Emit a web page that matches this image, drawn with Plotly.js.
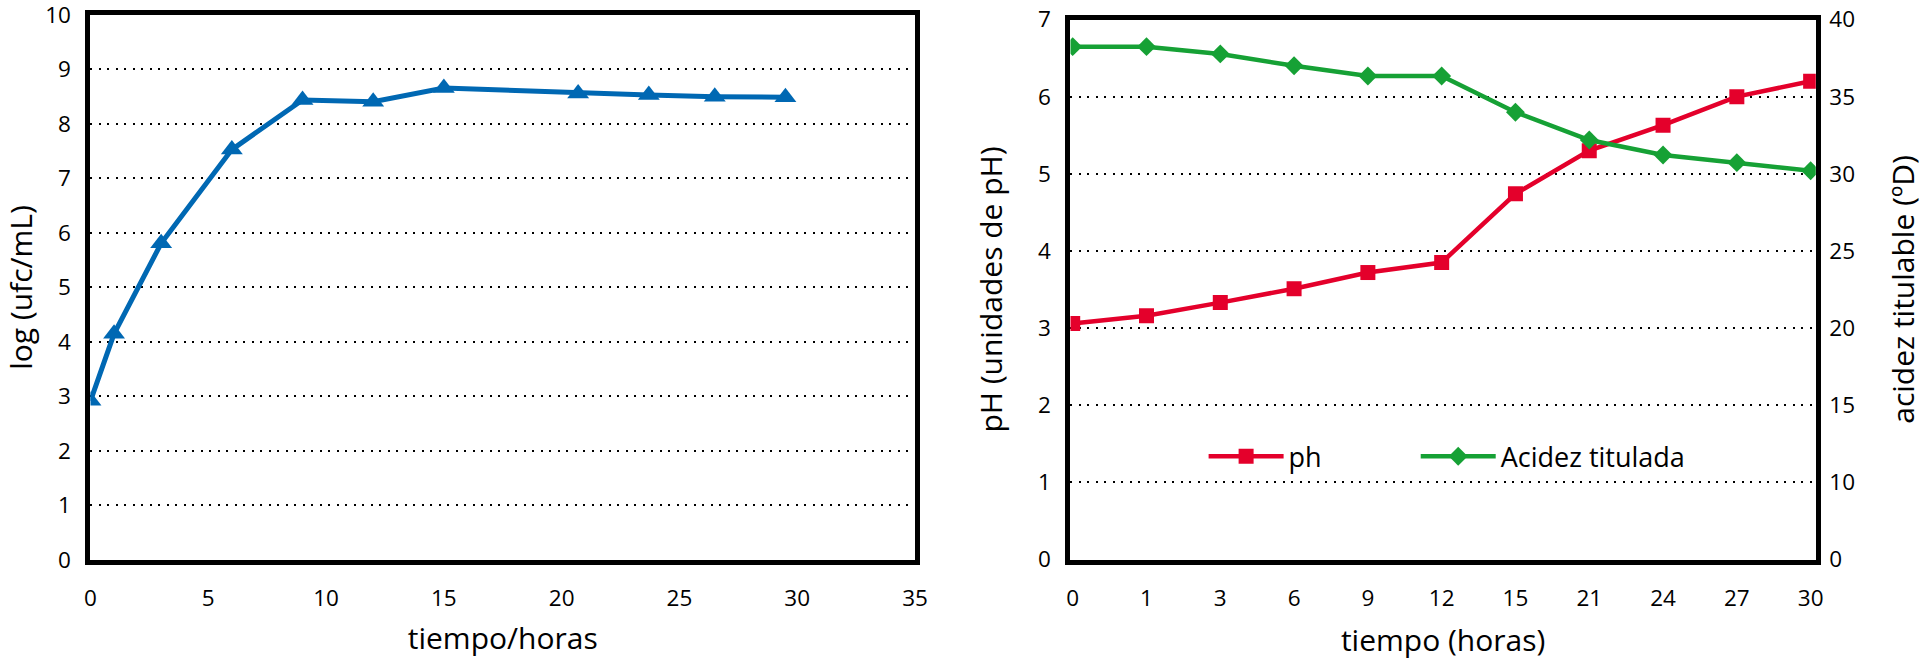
<!DOCTYPE html>
<html>
<head>
<meta charset="utf-8">
<script src="https://cdn.plot.ly/plotly-3.0.1.min.js"></script>
<style>
html, body { margin: 0; padding: 0; background: #ffffff; }
#chart { width: 1923px; height: 660px; }
</style>
</head>
<body>
<div id="chart"></div>
<script>
// ---- Left chart: growth curve ----
const growthHours = [0, 1, 3, 6, 9, 12, 15, 20.7, 23.7, 26.5, 29.5];
const growthLogUfc = [2.92, 4.15, 5.81, 7.53, 8.44, 8.41, 8.66, 8.56, 8.53, 8.5, 8.49];

// ---- Right chart: pH and titratable acidity ----
const timeCategories = ['0', '1', '3', '6', '9', '12', '15', '21', '24', '27', '30'];
const phValues = [3.06, 3.16, 3.33, 3.51, 3.72, 3.85, 4.74, 5.30, 5.63, 6.00, 6.20];
const acidezValues = [38.24, 38.24, 37.77, 37.0, 36.34, 36.34, 33.99, 32.19, 31.22, 30.72, 30.2];

// Right-hand axis labels as printed in the reference (evenly spaced)
const acidezTickVals = [5, 10, 15, 20, 25, 30, 35, 40];
const acidezTickText = ['0', '10', '15', '20', '25', '30', '35', '40'];

const FONT = '"Open Sans", "Noto Sans", sans-serif';
const BLUE = '#0068B3';
const RED = '#E4002B';
const GREEN = '#16A135';

const traces = [
  {
    x: growthHours, y: growthLogUfc, xaxis: 'x', yaxis: 'y',
    type: 'scatter', mode: 'lines+markers', showlegend: false,
    line: { color: BLUE, width: 5 },
    marker: { symbol: 'triangle-up', size: 19, color: BLUE }
  },
  {
    x: timeCategories, y: phValues, xaxis: 'x2', yaxis: 'y2',
    type: 'scatter', mode: 'lines+markers', name: 'ph', legend: 'legend',
    line: { color: RED, width: 4.5 },
    marker: { symbol: 'square', size: 15, color: RED }
  },
  {
    x: timeCategories, y: acidezValues, xaxis: 'x2', yaxis: 'y3',
    type: 'scatter', mode: 'lines+markers', name: 'Acidez titulada', legend: 'legend2',
    line: { color: GREEN, width: 4.5 },
    marker: { symbol: 'diamond', size: 14.5, color: GREEN }
  }
];

const axisLine = { showline: true, linecolor: '#000', linewidth: 5, zeroline: false, ticks: '', ticklabeloverflow: 'allow' };
const gridStyle = { showgrid: true, gridcolor: '#000', gridwidth: 2, griddash: '2px,6.5px' };
const tickFont = { family: FONT, size: 22.5, color: '#000' };
const titleFont = { family: FONT, size: 30, color: '#000' };
const legendFont = { family: FONT, size: 27, color: '#000' };

const layout = {
  width: 1923, height: 660,
  margin: { l: 0, r: 0, t: 0, b: 0, pad: 0 },
  paper_bgcolor: '#fff', plot_bgcolor: '#fff',
  font: { family: FONT, color: '#000' },
  showlegend: true,
  xaxis: Object.assign({}, axisLine, {
    domain: [0.04706, 0.47582], anchor: 'y', range: [0, 35], dtick: 5,
    showgrid: false, mirror: true, tickfont: tickFont, ticklabelstandoff: 14,
    title: { text: 'tiempo/horas', font: titleFont, standoff: 18 }
  }),
  yaxis: Object.assign({}, axisLine, gridStyle, {
    domain: [0.15152, 0.9773], anchor: 'x', range: [0, 10], dtick: 1,
    mirror: true, tickfont: tickFont, ticklabelstandoff: 10,
    title: { text: 'log (ufc/mL)', font: titleFont, standoff: 20 }
  }),
  xaxis2: Object.assign({}, axisLine, {
    domain: [0.55668, 0.94425], anchor: 'y2', type: 'category',
    range: [-0.03, 10.07], showgrid: false, mirror: true,
    tickfont: tickFont, ticklabelstandoff: 14,
    title: { text: 'tiempo (horas)', font: titleFont, standoff: 20 }
  }),
  yaxis2: Object.assign({}, axisLine, gridStyle, {
    domain: [0.15227, 0.97045], anchor: 'x2', range: [0, 7], dtick: 1,
    mirror: true, tickfont: tickFont, ticklabelstandoff: 10,
    title: { text: 'pH (unidades de pH)', font: titleFont, standoff: 28 }
  }),
  yaxis3: Object.assign({}, axisLine, {
    overlaying: 'y2', anchor: 'x2', side: 'right', range: [5, 40],
    tickmode: 'array', tickvals: acidezTickVals, ticktext: acidezTickText,
    showgrid: false, tickfont: tickFont, ticklabelstandoff: 4,
    title: { text: 'acidez titulable (ºD)', font: titleFont, standoff: 42 }
  }),
  legend: {
    orientation: 'h', x: 0.6259, y: 0.3081, xanchor: 'left', yanchor: 'middle',
    bgcolor: 'rgba(0,0,0,0)', borderwidth: 0, font: legendFont, itemwidth: 75
  },
  legend2: {
    orientation: 'h', x: 0.7362, y: 0.3081, xanchor: 'left', yanchor: 'middle',
    bgcolor: 'rgba(0,0,0,0)', borderwidth: 0, font: legendFont, itemwidth: 75
  }
};

Plotly.newPlot('chart', traces, layout, { displayModeBar: false, staticPlot: true });
</script>
</body>
</html>
